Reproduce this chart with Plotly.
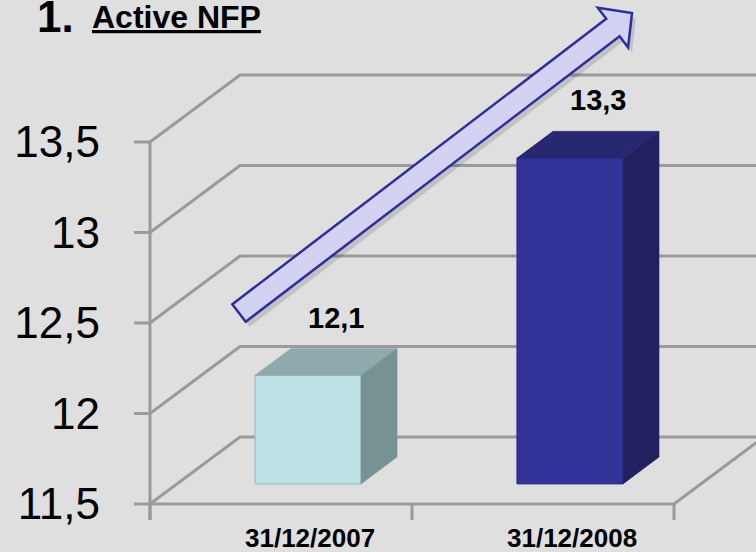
import plotly.graph_objects as go
import math

# ---- data ----
categories = ["31/12/2007", "31/12/2008"]
values = [12.1, 13.3]
value_labels = ["12,1", "13,3"]
y_ticks = [11.5, 12, 12.5, 13, 13.5]
y_tick_labels = ["11,5", "12", "12,5", "13", "13,5"]
title_num = "1."
title_text = "Active NFP"

# ---- style ----
front_colors = ["#bce2e5", "#333399"]
top_colors = ["#8faaac", "#272772"]
side_colors = ["#779293", "#22215f"]
edge_colors = ["#9ab4b6", "#2c2c85"]
BG = "#dfdfdf"
GRID = "#9a9a9a"
GRID_W = 3
FONT = "Liberation Sans, Arial"

W, H = 756, 552
ML, MB = 124, 28
PW, PH = W - ML, H - MB
CAT_PX = 262.0   # pixels per category
UNIT_PX = 181.0  # pixels per value unit
AXIS_X_PX = 150  # front y-axis pixel
FLOOR_Y_PX = 504  # front floor pixel
BASE = y_ticks[0]

x0 = -0.5 - (AXIS_X_PX - ML) / CAT_PX
x1 = x0 + PW / CAT_PX
y1 = BASE + FLOOR_Y_PX / UNIT_PX
y0 = y1 - PH / UNIT_PX

DX = 90 / CAT_PX   # depth offset in x (data)
DY = 67 / UNIT_PX  # depth offset in y (data)
FRONT, BACK = 0.3, 0.7
BAR_W = 0.405
TICK_X = 16 / CAT_PX
TICK_Y = 16 / UNIT_PX
n = len(categories)
left, right = -0.5, n - 0.5

fig = go.Figure()

# ---- grid / walls (as shapes below the traces) ----
shapes = []
def seg_path(points):
    return "M " + " L ".join(f"{a:.6f},{b:.6f}" for a, b in points)

def add_grid(points):
    shapes.append(dict(type="path", xref="x", yref="y", path=seg_path(points),
                       line=dict(color=GRID, width=GRID_W), layer="below"))

for v in y_ticks:
    add_grid([(left - TICK_X, v), (left, v), (left + DX, v + DY), (right + DX, v + DY)])
add_grid([(left, BASE), (right, BASE), (right + DX, BASE + DY)])
add_grid([(left, BASE - TICK_Y), (left, y_ticks[-1])])
for k in range(n + 1):
    add_grid([(left + k, BASE), (left + k, BASE - TICK_Y)])

# ---- bars: front faces ----
fig.add_trace(go.Bar(
    x=[i + FRONT * DX for i in range(n)],
    y=[v - BASE for v in values],
    base=[BASE + FRONT * DY] * n,
    width=BAR_W,
    marker=dict(color=front_colors, line=dict(color=edge_colors, width=1)),
    hoverinfo="skip", showlegend=False))

# ---- bars: top and side faces ----
for i, v in enumerate(values):
    xl, xr = i - BAR_W / 2, i + BAR_W / 2
    fx, fy = FRONT * DX, FRONT * DY
    bx, by = BACK * DX, BACK * DY
    fig.add_trace(go.Scatter(
        x=[xl + fx, xr + fx, xr + bx, xl + bx, xl + fx],
        y=[v + fy, v + fy, v + by, v + by, v + fy],
        fill="toself", fillcolor=top_colors[i], mode="lines",
        line=dict(color=top_colors[i], width=0.5),
        hoverinfo="skip", showlegend=False))
    fig.add_trace(go.Scatter(
        x=[xr + fx, xr + bx, xr + bx, xr + fx, xr + fx],
        y=[v + fy, v + by, BASE + by, BASE + fy, v + fy],
        fill="toself", fillcolor=side_colors[i], mode="lines",
        line=dict(color=side_colors[i], width=0.5),
        hoverinfo="skip", showlegend=False))

annotations = []
for i, v in enumerate(values):
    annotations.append(dict(x=i + 0.21, y=v + 0.43, xref="x", yref="y",
                            text=value_labels[i], showarrow=False,
                            font=dict(family=FONT, size=29, color="black", weight="bold")))
    annotations.append(dict(x=i + 0.11, y=BASE, xref="x", yref="y", yshift=-34,
                            text=categories[i], showarrow=False,
                            font=dict(family=FONT, size=26, color="black", weight="bold")))

def px(xp):
    return (xp - ML) / PW
def py(yp):
    return (PH - yp) / PH

annotations.append(dict(x=px(35), y=py(16), xref="paper", yref="paper",
                        xanchor="left", yanchor="middle", text=title_num,
                        showarrow=False,
                        font=dict(family=FONT, size=44, color="black", weight="bold")))
annotations.append(dict(x=px(90), y=py(17), xref="paper", yref="paper",
                        xanchor="left", yanchor="middle",
                        text="<u>" + title_text + "</u>", showarrow=False,
                        font=dict(family=FONT, size=32, color="black", weight="bold")))

# ---- trend arrow (decoration, pixel geometry) ----
tail = (239, 313)
tip = (632, 13)
ux, uy = tip[0] - tail[0], tip[1] - tail[1]
L = math.hypot(ux, uy)
ux, uy = ux / L, uy / L
nx, ny = -uy, ux
if ny < 0:
    nx, ny = -nx, -ny
head_len, half_shaft, half_head = 24, 11, 25
bxp, byp = tip[0] - head_len * ux, tip[1] - head_len * uy
pts = [
    (tail[0] - half_shaft * nx, tail[1] - half_shaft * ny),
    (bxp - half_shaft * nx, byp - half_shaft * ny),
    (bxp - half_head * nx, byp - half_head * ny),
    tip,
    (bxp + half_head * nx, byp + half_head * ny),
    (bxp + half_shaft * nx, byp + half_shaft * ny),
    (tail[0] + half_shaft * nx, tail[1] + half_shaft * ny),
]
def path(points, ox=0, oy=0):
    return "M " + " L ".join(f"{px(a + ox):.5f},{py(b + oy):.5f}" for a, b in points) + " Z"

shapes += [
    dict(type="path", xref="paper", yref="paper", path=path(pts, 4, 5),
         fillcolor="rgba(0,0,0,0.13)", line=dict(width=0), layer="above"),
    dict(type="path", xref="paper", yref="paper", path=path(pts),
         fillcolor="#d2d2f2", line=dict(color="#2e2e9c", width=2.5), layer="above"),
]

fig.update_layout(
    width=W, height=H,
    margin=dict(l=ML, r=0, t=0, b=MB),
    paper_bgcolor=BG, plot_bgcolor=BG,
    hovermode=False,
    showlegend=False,
    xaxis=dict(range=[x0, x1], visible=False, fixedrange=True),
    yaxis=dict(range=[y0, y1], tickvals=y_ticks, ticktext=y_tick_labels,
               ticks="", showgrid=False, zeroline=False, showline=False,
               ticklabelstandoff=23,
               tickfont=dict(family=FONT, size=44, color="black"),
               fixedrange=True),
    annotations=annotations,
    shapes=shapes,
)

fig.write_html("out.html",
               config={"displayModeBar": False},
               post_script="document.body.style.margin='0';document.body.style.padding='0';document.body.style.background='" + BG + "';")
